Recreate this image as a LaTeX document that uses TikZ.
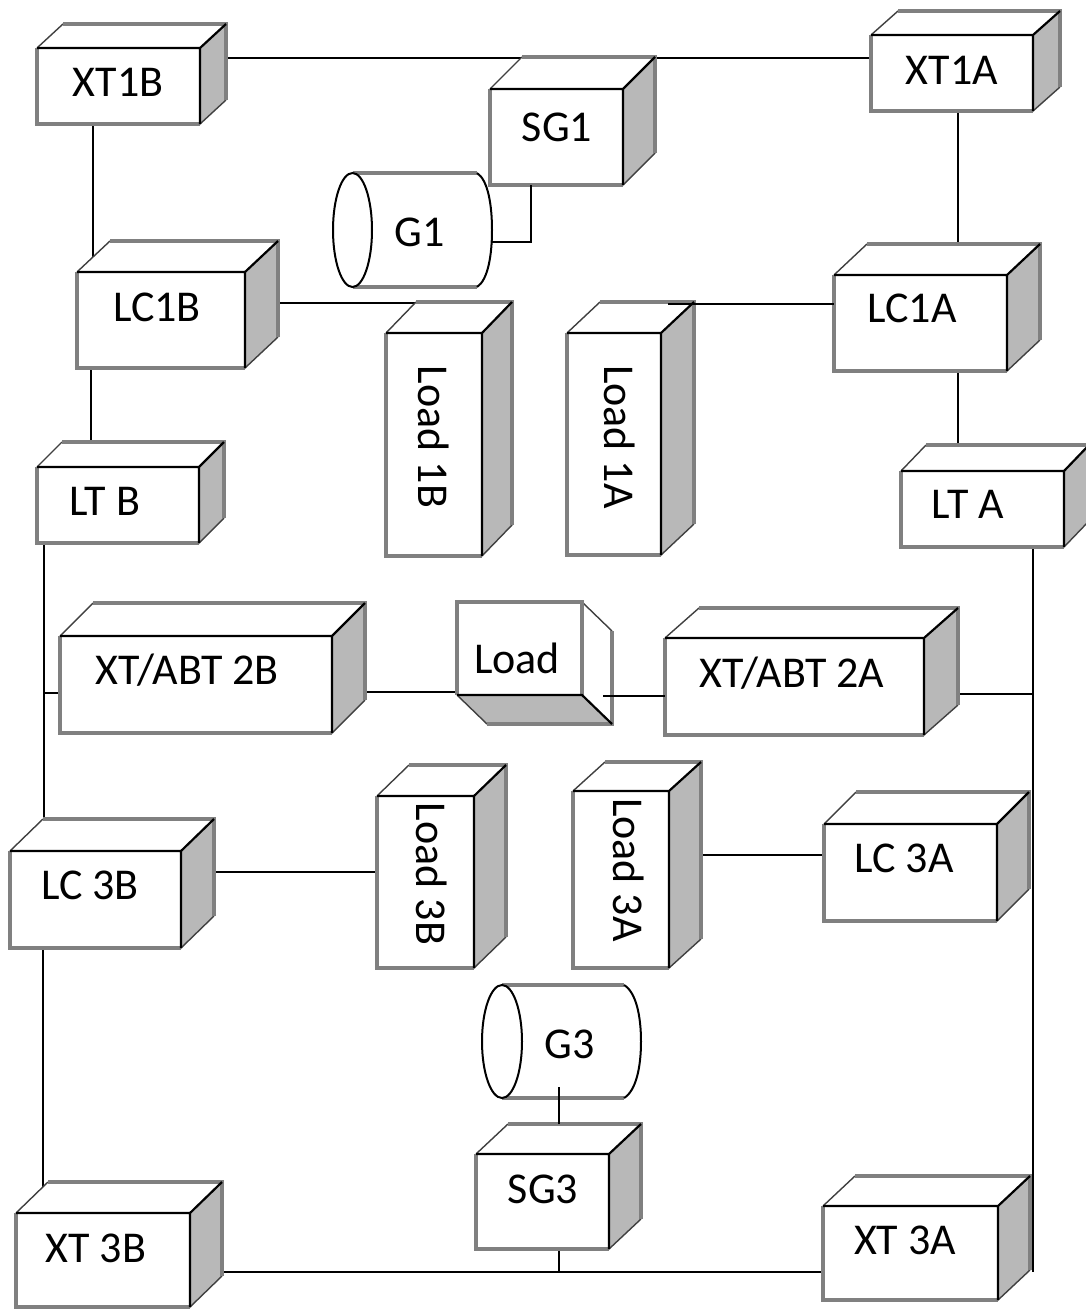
\documentclass[tikz,border=0pt]{standalone}
\usepackage{fontspec}
\setmainfont{Carlito}
\usetikzlibrary{calc,fit}
\pgfdeclarelayer{back}
\pgfdeclarelayer{bg}
\pgfsetlayers{back,bg,main}
\definecolor{edgegray}{gray}{0.5}
\definecolor{sidegray}{gray}{0.72}
\tikzset{
  conn/.style={line width=2.4pt, black},
  lbl/.style={font=\fontsize{44}{50}\selectfont, inner sep=0pt, text=black},
  faceframe/.style={inner sep=0pt, outer sep=0pt, fill=white},
  outeredge/.style={draw=edgegray, line width=3.6pt, line join=miter},
  inneredge/.style={draw=black, line width=2.2pt},
  slantedge/.style={draw=black!75, line width=1.4pt},
  cylline/.style={draw=black, line width=2pt},
}
% name, x1, y1, x2, y2, dx, dy  (front face corners, depth up-right)
\newcommand{\cuboid}[7]{%
  \fill[white] (#2,#3) -- (#2+#6,#3-#7) -- (#4+#6,#3-#7) -- (#4,#3) -- cycle;
  \fill[sidegray] (#4,#3) -- (#4+#6,#3-#7) -- (#4+#6,#5-#7) -- (#4,#5) -- cycle;
  \node[faceframe, fit={(#2,#3) (#4,#5)}] (#1) {};
  \draw[slantedge] (#2,#3) -- (#2+#6,#3-#7) (#4,#5) -- (#4+#6,#5-#7);
  \draw[outeredge] (#4,#5) -- (#2,#5) -- (#2,#3) (#2+#6,#3-#7) -- (#4+#6,#3-#7) -- (#4+#6,#5-#7);
  \draw[inneredge] (#2,#3) -- (#4,#3) -- (#4,#5) (#4,#3) -- (#4+#6,#3-#7);
}
\begin{document}
\begin{tikzpicture}[x=1pt,y=-1pt]
\begin{pgfonlayer}{back}
\fill[white] (0,0) rectangle (1086,1310);
\end{pgfonlayer}
\useasboundingbox (0,0) rectangle (1086,1310);

% ---- cylinders ----
\filldraw[white] (352.5,173) -- (477,173) .. controls (488,180) and (492,205) .. (492,230) .. controls (492,255) and (488,280) .. (477,287) -- (352.5,287) -- cycle;
\draw[outeredge] (352.5,173) -- (477,173) (477,287) -- (352.5,287);
\draw[cylline] (477,173) .. controls (488,180) and (492,205) .. (492,230) .. controls (492,255) and (488,280) .. (477,287);
\draw[cylline, fill=white] (352.5,230) ellipse [x radius=19.5pt, y radius=57pt];
\node[lbl] (g1) at (420,232) {G1};
\coordinate (g1r) at (491,242);

\filldraw[white] (502,985) -- (624,985) .. controls (636,992) and (641,1016) .. (641,1041.5) .. controls (641,1067) and (636,1091) .. (624,1098) -- (502,1098) -- cycle;
\draw[outeredge] (502,985) -- (624,985) (624,1098) -- (502,1098);
\draw[cylline] (624,985) .. controls (636,992) and (641,1016) .. (641,1041.5) .. controls (641,1067) and (636,1091) .. (624,1098);
\draw[cylline, fill=white] (502,1041.5) ellipse [x radius=20pt, y radius=56.5pt];
\node[lbl] (g3) at (570,1044) {G3};
\coordinate (g3b) at (559,1087);

% ---- cuboids ----
\cuboid{xt1b}{37}{48}{200}{124}{26}{24}
\cuboid{xt1a}{871}{35}{1033}{111}{27}{24}
\cuboid{sg1}{490}{89}{623}{185}{32}{32}
\cuboid{lc1b}{77}{272}{245}{368}{33}{31}
\cuboid{lc1a}{834}{275}{1007}{371}{33}{31}
\cuboid{load1b}{386}{333}{482}{556}{30}{31}
\cuboid{load1a}{567}{333}{661}{555}{33}{31}
\cuboid{ltb}{37}{467}{199}{543}{25}{25}
\cuboid{lta}{901}{471}{1064}{547}{25}{26}
\cuboid{xtabtb}{60}{636}{332}{733}{33}{33}
\cuboid{xtabta}{665}{638}{924}{735}{34}{30}
\cuboid{lc3b}{10}{851}{181}{948}{33}{32}
\cuboid{load3b}{377}{796}{474}{968}{32}{31}
\cuboid{load3a}{573}{791}{669}{968}{32}{29}
\cuboid{lc3a}{824}{824}{997}{921}{32}{32}
\cuboid{xt3b}{16}{1213}{190}{1307}{32}{31}
\cuboid{xt3a}{823}{1206}{998}{1300}{32}{30}
\cuboid{sg3}{476}{1154}{609}{1249}{32}{30}

% ---- middle load box (depth down-right) ----
\fill[white] (582,602) -- (612,631) -- (612,724) -- (582,695) -- cycle;
\fill[sidegray] (457,695) -- (582,695) -- (612,724) -- (487,724) -- cycle;
\node[faceframe, fit={(457,602) (582,695)}] (load) {};
\draw[slantedge] (582,602) -- (612,631) (457,695) -- (487,724);
\draw[outeredge] (457,695) -- (457,602) -- (582,602) -- (582,695) (612,631) -- (612,724) -- (487,724);
\draw[inneredge] (457,695) -- (582,695) -- (612,724);

% ---- labels ----
\node[lbl] (xt1b-t) at (118,82) {XT1B};
\node[lbl] (xt1a-t) at (952,70) {XT1A};
\node[lbl] (sg1-t) at (557,127) {SG1};
\node[lbl] (lc1b-t) at (157,307) {LC1B};
\node[lbl] (lc1a-t) at (912,308) {LC1A};
\node[lbl] (ltb-t) at (105,501) {LT B};
\node[lbl] (lta-t) at (968,504) {LT A};
\node[lbl] (xtabtb-t) at (187,670) {XT/ABT 2B};
\node[lbl] (xtabta-t) at (792,673) {XT/ABT 2A};
\node[lbl] (load-t) at (517,658) {Load};
\node[lbl] (lc3b-t) at (90,885) {LC 3B};
\node[lbl] (lc3a-t) at (904,858) {LC 3A};
\node[lbl] (xt3b-t) at (96,1248) {XT 3B};
\node[lbl] (xt3a-t) at (905,1240) {XT 3A};
\node[lbl] (sg3-t) at (543,1189) {SG3};
\node[lbl, rotate=-90] (load1b-t) at (434,437) {Load 1B};
\node[lbl, rotate=-90] (load1a-t) at (620,437) {Load 1A};
\node[lbl, rotate=-90] (load3b-t) at (432,874) {Load 3B};
\node[lbl, rotate=-90] (load3a-t) at (629,870) {Load 3A};

% ---- connectors behind boxes ----
\begin{pgfonlayer}{bg}
\draw[conn] ($(xt1b.north east)+(26,10)$) -- ($(xt1a.north west)+(8,23)$);
\draw[conn] ($(xt1b.south west)+(56,0)$) -- ($(lc1b.north west)+(16,0)$);
\draw[conn] ($(xt1a.south west)+(87,0)$) -- ($(lc1a.north west)+(124,0)$);
\draw[conn] ($(lc1b.north east)+(33,31)$) -- ($(load1b.north west)+(40,-30)$);
\draw[conn] ($(lc1a.south west)+(124,0)$) -- ($(lta.north west)+(57,0)$);
\draw[conn] ($(lc1b.south west)+(14,0)$) -- ($(ltb.north west)+(54,0)$);
\draw[conn] ($(ltb.south west)+(7,0)$) -- ($(lc3b.north west)+(34,0)$);
\draw[conn] ($(ltb.south west)+(7,150)$) -- ($(xtabtb.north west)+(0,57)$);
\draw[conn] ($(xtabtb.north east)+(33,56)$) -- ($(load.north west)+(0,90)$);
\draw[conn] ($(xtabta.north east)+(34,56)$) -- ($(lta.south west)+(132,147)$);
\draw[conn] ($(lta.south west)+(132,0)$) -- ($(xt3a.north east)+(35,66)$);
\draw[conn] ($(lc3b.north east)+(33,21)$) -- ($(load3b.north west)+(0,76)$);
\draw[conn] ($(lc3b.south west)+(33,0)$) -- ($(xt3b.north west)+(27,0)$);
\draw[conn] ($(load3a.north east)+(32,64)$) -- ($(lc3a.north west)+(0,31)$);
\draw[conn] ($(xt3b.north east)+(32,59)$) -- ($(xt3a.north west)+(0,66)$);
\draw[conn] ($(sg3.south west)+(83,0)$) -- ($(sg3.south west)+(83,23)$);
\end{pgfonlayer}

% ---- connectors drawn on top ----
\draw[conn] ($(load1a.north west)+(101,-29)$) -- ($(lc1a.north west)+(0,29)$);
\draw[conn] ($(load.north east)+(21,94)$) -- ($(xtabta.north west)+(0,58)$);
\draw[conn] (g1r) -| ($(sg1.south west)+(41,0)$);
\draw[conn] (g3b) -- ($(sg3.north west)+(83,-30)$);
\end{tikzpicture}
\end{document}
